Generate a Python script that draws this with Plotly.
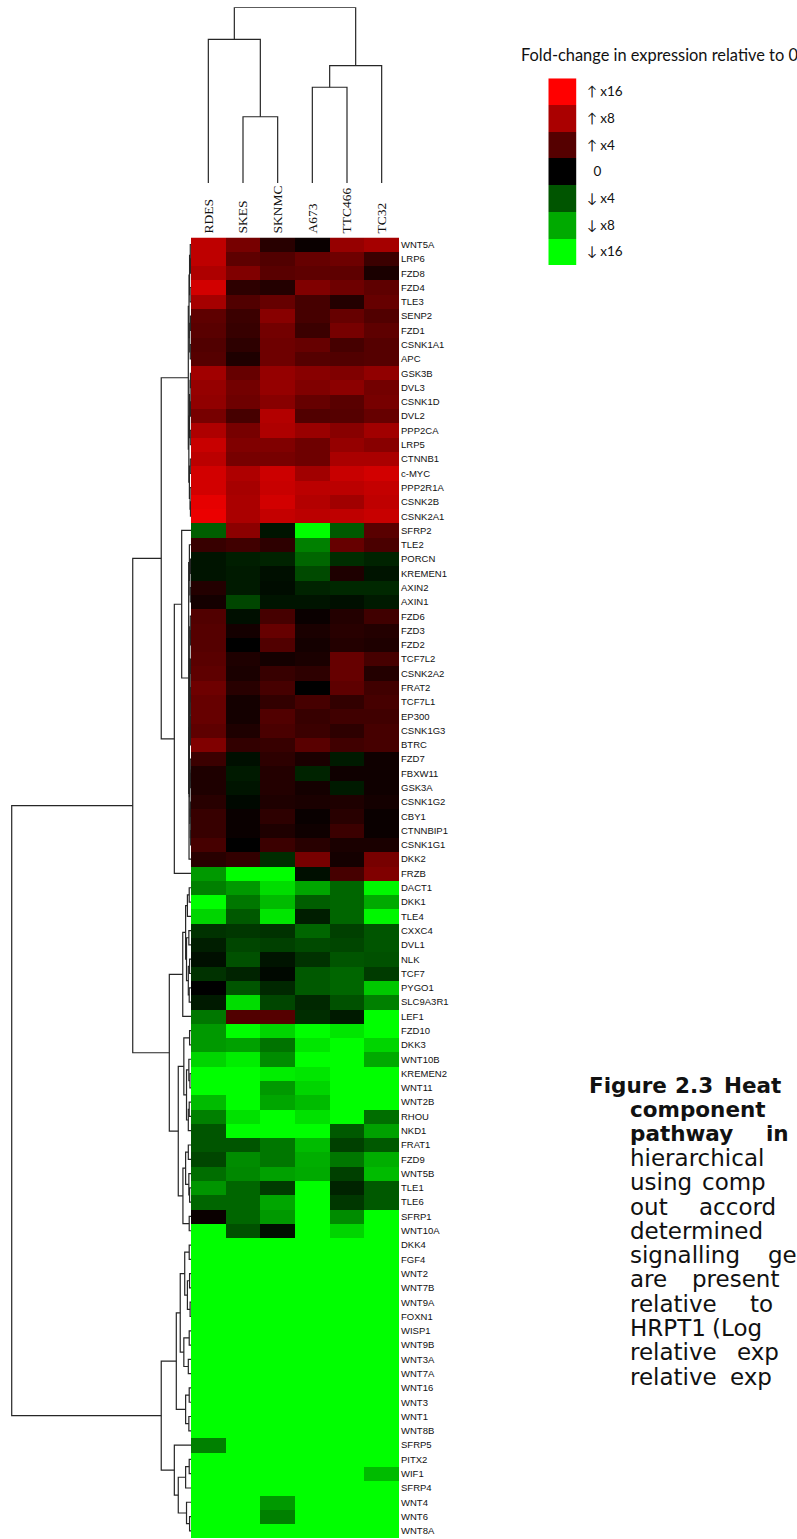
import plotly.graph_objects as go

W, H = 797, 1539

cell_lines = ["RDES", "SKES", "SKNMC", "A673", "TTC466", "TC32"]

genes = [
    "WNT5A", "LRP6", "FZD8", "FZD4", "TLE3", "SENP2", "FZD1", "CSNK1A1", "APC",
    "GSK3B", "DVL3", "CSNK1D", "DVL2", "PPP2CA", "LRP5", "CTNNB1", "c-MYC",
    "PPP2R1A", "CSNK2B", "CSNK2A1", "SFRP2", "TLE2", "PORCN", "KREMEN1", "AXIN2",
    "AXIN1", "FZD6", "FZD3", "FZD2", "TCF7L2", "CSNK2A2", "FRAT2", "TCF7L1",
    "EP300", "CSNK1G3", "BTRC", "FZD7", "FBXW11", "GSK3A", "CSNK1G2", "CBY1",
    "CTNNBIP1", "CSNK1G1", "DKK2", "FRZB", "DACT1", "DKK1", "TLE4", "CXXC4",
    "DVL1", "NLK", "TCF7", "PYGO1", "SLC9A3R1", "LEF1", "FZD10", "DKK3",
    "WNT10B", "KREMEN2", "WNT11", "WNT2B", "RHOU", "NKD1", "FRAT1", "FZD9",
    "WNT5B", "TLE1", "TLE6", "SFRP1", "WNT10A", "DKK4", "FGF4", "WNT2", "WNT7B",
    "WNT9A", "FOXN1", "WISP1", "WNT9B", "WNT3A", "WNT7A", "WNT16", "WNT3",
    "WNT1", "WNT8B", "SFRP5", "PITX2", "WIF1", "SFRP4", "WNT4", "WNT6", "WNT8A",
]

# log2 fold-change per gene (rows) and cell line (columns)
log2_fold = [
    [3.24, 2.40, 0.94, 0.24, 2.76, 2.94],   # WNT5A
    [3.24, 2.10, 1.90, 2.20, 2.30, 1.40],   # LRP6
    [3.05, 2.50, 2.05, 2.10, 2.10, 0.60],   # FZD8
    [3.47, 1.06, 0.82, 2.50, 2.30, 2.10],   # FZD4
    [2.94, 1.90, 2.20, 1.65, 0.82, 2.20],   # TLE3
    [2.10, 1.40, 2.60, 1.65, 2.20, 1.90],   # SENP2
    [2.05, 1.30, 2.35, 1.40, 2.40, 2.10],   # FZD1
    [1.90, 1.06, 2.30, 2.20, 1.65, 2.00],   # CSNK1A1
    [2.00, 0.70, 2.30, 2.00, 1.90, 2.00],   # APC
    [2.90, 2.20, 2.75, 2.60, 2.50, 2.70],   # GSK3B
    [2.75, 2.35, 2.75, 2.50, 2.65, 2.35],   # DVL3
    [2.70, 2.30, 2.60, 2.20, 2.05, 2.40],   # CSNK1D
    [2.40, 1.65, 3.10, 1.90, 2.00, 2.20],   # DVL2
    [3.05, 2.40, 3.05, 2.80, 2.60, 2.90],   # PPP2CA
    [3.35, 2.50, 2.50, 2.30, 2.75, 2.60],   # LRP5
    [3.20, 2.40, 2.40, 2.30, 3.00, 3.00],   # CTNNB1
    [3.47, 3.05, 3.40, 2.90, 3.35, 3.47],   # c-MYC
    [3.47, 2.95, 3.35, 3.20, 3.20, 3.30],   # PPP2R1A
    [3.70, 3.00, 3.47, 3.10, 2.90, 3.25],   # CSNK2B
    [3.76, 3.00, 3.30, 3.20, 3.25, 3.35],   # CSNK2A1
    [-2.10, 2.65, -0.47, -4.00, -2.05, 2.05],   # SFRP2
    [1.30, 1.50, 1.06, -2.50, 2.20, 1.75],      # TLE2
    [-0.47, -0.70, -0.82, -2.20, -1.06, -0.82], # PORCN
    [-0.47, -0.60, -0.35, -1.75, 0.70, -0.47],  # KREMEN1
    [0.82, -0.60, -0.28, -0.82, -0.94, -0.94],  # AXIN2
    [0.47, -1.65, -0.47, -0.47, -0.35, -0.60],  # AXIN1
    [1.90, -0.35, 1.65, 0.24, 0.82, 1.50],      # FZD6
    [2.00, 0.47, 2.20, 0.60, 0.94, 0.82],       # FZD3
    [2.00, 0.00, 1.90, 0.47, 0.82, 0.70],       # FZD2
    [2.05, 0.70, 0.47, 0.60, 2.20, 1.65],       # TCF7L2
    [2.10, 0.60, 1.30, 1.06, 2.20, 0.82],       # CSNK2A2
    [2.30, 0.94, 1.65, 0.00, 2.10, 1.50],       # FRAT2
    [2.20, 0.47, 1.18, 1.65, 1.18, 1.65],       # TCF7L1
    [2.20, 0.47, 1.90, 1.30, 1.50, 1.50],       # EP300
    [2.10, 0.70, 1.75, 1.40, 1.06, 1.65],       # CSNK1G3
    [2.50, 1.18, 1.30, 2.05, 1.50, 1.65],       # BTRC
    [1.40, -0.35, 1.06, 0.60, -0.60, 0.35],     # FZD7
    [0.70, -0.60, 0.82, -0.82, 0.35, 0.35],     # FBXW11
    [0.70, -0.47, 0.82, 0.47, -0.60, 0.35],     # GSK3A
    [0.94, -0.20, 0.70, 0.60, 0.70, 0.47],      # CSNK1G2
    [1.30, 0.24, 1.06, 0.20, 0.94, 0.24],       # CBY1
    [1.30, 0.24, 0.70, 0.35, 1.40, 0.24],       # CTNNBIP1
    [1.65, 0.00, 1.40, 0.94, 0.60, 0.60],       # CSNK1G1
    [0.94, 1.18, -1.06, 2.40, 0.47, 2.40],      # DKK2
    [-2.80, -4.00, -4.00, -0.35, 1.65, 2.50],   # FRZB
    [-2.50, -2.80, -3.60, -2.95, -2.20, -3.90], # DACT1
    [-4.00, -2.40, -3.20, -2.10, -2.20, -3.00], # DKK1
    [-3.50, -2.05, -3.70, -0.70, -2.20, -3.90], # TLE4
    [-1.18, -1.30, -1.18, -2.20, -1.50, -2.00], # CXXC4
    [-0.70, -1.65, -1.50, -1.75, -1.65, -2.00], # DVL1
    [-0.35, -1.90, -0.47, -1.18, -2.00, -1.90], # NLK
    [-1.18, -0.82, -0.20, -2.05, -2.20, -1.40], # TCF7
    [0.00, -2.00, -0.94, -2.05, -2.20, -3.35],  # PYGO1
    [-0.60, -3.60, -1.65, -0.94, -1.90, -2.50], # SLC9A3R1
    [-2.40, 1.90, 2.00, -1.06, -0.60, -4.00],   # LEF1
    [-2.80, -4.00, -3.50, -4.00, -3.70, -4.00], # FZD10
    [-2.80, -2.90, -2.35, -3.70, -4.00, -3.50], # DKK3
    [-3.50, -3.80, -2.65, -4.00, -4.00, -3.00], # WNT10B
    [-4.00, -4.00, -3.80, -3.70, -4.00, -4.00], # KREMEN2
    [-4.00, -4.00, -2.80, -3.50, -4.00, -4.00], # WNT11
    [-3.20, -4.00, -2.95, -3.20, -4.00, -4.00], # WNT2B
    [-2.50, -3.65, -4.00, -3.65, -4.00, -2.30], # RHOU
    [-2.00, -4.00, -4.00, -4.00, -2.05, -2.90], # NKD1
    [-2.00, -2.00, -2.40, -3.20, -1.50, -2.05], # FRAT1
    [-1.65, -2.65, -2.40, -3.05, -2.40, -3.05], # FZD9
    [-2.30, -2.60, -2.90, -3.00, -1.50, -3.20], # WNT5B
    [-2.75, -2.20, -1.40, -4.00, -0.82, -2.05], # TLE1
    [-2.20, -2.20, -2.95, -4.00, -1.30, -2.05], # TLE6
    [0.24, -2.20, -2.80, -4.00, -2.65, -4.00],  # SFRP1
    [-4.00, -1.90, -0.35, -4.00, -3.50, -4.00], # WNT10A
    [-4.00, -4.00, -4.00, -4.00, -4.00, -4.00], # DKK4
    [-4.00, -4.00, -4.00, -4.00, -4.00, -4.00], # FGF4
    [-4.00, -4.00, -4.00, -4.00, -4.00, -4.00], # WNT2
    [-4.00, -4.00, -4.00, -4.00, -4.00, -4.00], # WNT7B
    [-4.00, -4.00, -4.00, -4.00, -4.00, -4.00], # WNT9A
    [-4.00, -4.00, -4.00, -4.00, -4.00, -4.00], # FOXN1
    [-4.00, -4.00, -4.00, -4.00, -4.00, -4.00], # WISP1
    [-4.00, -4.00, -4.00, -4.00, -4.00, -4.00], # WNT9B
    [-4.00, -4.00, -4.00, -4.00, -4.00, -4.00], # WNT3A
    [-4.00, -4.00, -4.00, -4.00, -4.00, -4.00], # WNT7A
    [-4.00, -4.00, -4.00, -4.00, -4.00, -4.00], # WNT16
    [-4.00, -4.00, -4.00, -4.00, -4.00, -4.00], # WNT3
    [-4.00, -4.00, -4.00, -4.00, -4.00, -4.00], # WNT1
    [-4.00, -4.00, -4.00, -4.00, -4.00, -4.00], # WNT8B
    [-2.50, -4.00, -4.00, -4.00, -4.00, -4.00], # SFRP5
    [-4.00, -4.00, -4.00, -4.00, -4.00, -4.00], # PITX2
    [-4.00, -4.00, -4.00, -4.00, -4.00, -3.20], # WIF1
    [-4.00, -4.00, -4.00, -4.00, -4.00, -4.00], # SFRP4
    [-4.00, -4.00, -2.80, -4.00, -4.00, -4.00], # WNT4
    [-4.00, -4.00, -2.50, -4.00, -4.00, -4.00], # WNT6
    [-4.00, -4.00, -4.00, -4.00, -4.00, -4.00], # WNT8A
]

# Hierarchical clustering of genes: (merge distance, left, right); root = 1.0
red_block = (0.015,
    (0.011,
        (0.008, (0.004, "WNT5A", (0.003, "LRP6", "FZD8")), (0.005, "FZD4", "TLE3")),
        (0.007, (0.003, "SENP2", "FZD1"), (0.004, "CSNK1A1", "APC"))),
    (0.012,
        (0.008, (0.005, (0.003, "GSK3B", "DVL3"), (0.003, "CSNK1D", "DVL2")),
                (0.004, "PPP2CA", "LRP5")),
        (0.009, (0.004, "CTNNB1", "c-MYC"),
                (0.005, "PPP2R1A", (0.003, "CSNK2B", "CSNK2A1")))))

mixed_block = (0.013,
    (0.009, "TLE2", (0.006, (0.003, "PORCN", "KREMEN1"), (0.004, "AXIN2", "AXIN1"))),
    (0.011,
        (0.009,
            (0.007, (0.004, "FZD6", (0.003, "FZD3", "FZD2")),
                    (0.005, (0.003, "TCF7L2", "CSNK2A2"),
                            (0.004, (0.002, "FRAT2", "TCF7L1"),
                                    (0.003, (0.002, "EP300", "CSNK1G3"), "BTRC")))),
            (0.006, (0.004, "FZD7", (0.002, "FBXW11", "GSK3A")),
                    (0.004, (0.003, "CSNK1G2", "CBY1"), (0.002, "CTNNBIP1", "CSNK1G1")))),
        "DKK2"))

low_block = (0.121,
    (0.046,
        (0.030, (0.020, (0.010, "DACT1", "DKK1"), "TLE4"),
                (0.025, (0.012, "CXXC4", "DVL1"),
                        (0.015, (0.008, "NLK", "TCF7"), (0.010, "PYGO1", "SLC9A3R1")))),
        "LEF1"),
    (0.071,
        (0.040, (0.008, "FZD10", "DKK3"),
                (0.025, (0.012, "WNT10B", (0.006, "KREMEN2", "WNT11")),
                        (0.015, (0.010, "WNT2B", "RHOU"), "NKD1"))),
        (0.045, (0.030, (0.015, "FRAT1", "FZD9"),
                        (0.012, "WNT5B", (0.008, "TLE1", "TLE6"))),
                (0.010, "SFRP1", "WNT10A"))))

wnt_block = (0.166,
    (0.082,
        (0.060,
            (0.035, (0.010, "DKK4", "FGF4"),
                    (0.020, (0.008, "WNT2", "WNT7B"), (0.005, "WNT9A", "FOXN1"))),
            (0.040, (0.010, "WISP1", "WNT9B"), (0.015, "WNT3A", "WNT7A"))),
        (0.030, (0.010, "WNT16", "WNT3"), (0.012, "WNT1", "WNT8B"))),
    (0.093,
        "SFRP5",
        (0.071, (0.030, (0.010, "PITX2", "WIF1"), "SFRP4"),
                (0.025, "WNT4", (0.008, "WNT6", "WNT8A")))))

gene_tree = (1.0,
    (0.325,
        (0.166, red_block, (0.093, (0.052, "SFRP2", mixed_block), "FRZB")),
        low_block),
    wnt_block)

# Clustering of cell lines
cell_tree = (1.0,
    (0.818, "RDES", (0.377, "SKES", "SKNMC")),
    (0.668, (0.545, "A673", "TTC466"), "TC32"))

legend_levels = [4, 3, 2, 0, -2, -3, -4]
legend_labels = ["\u2191 x16", "\u2191 x8", "\u2191 x4", "\u00a0\u00a00",
                 "\u2193 x4", "\u2193 x8", "\u2193 x16"]

# caption: (words with their left edge in px, bold?)
caption_lines = [
    ([("Figure", 586.7), ("2.3", 673), ("Heat", 722)], True),
    ([("component", 628.3)], True),
    ([("pathway", 628.3), ("in", 764)], True),
    ([("hierarchical", 628.3)], False),
    ([("using", 628.3), ("comp", 700)], False),
    ([("out", 628.3), ("accord", 697)], False),
    ([("determined", 628.3)], False),
    ([("signalling", 628.3), ("ge", 766)], False),
    ([("are", 628.3), ("present", 690)], False),
    ([("relative", 628.3), ("to", 748)], False),
    ([("HRPT1", 628.3), ("(Log", 710)], False),
    ([("relative", 628.3), ("exp", 735)], False),
    ([("relative", 628.3), ("exp", 728)], False),
]

colorscale = [
    [0.0, "rgb(0,255,0)"], [0.125, "rgb(0,170,0)"], [0.25, "rgb(0,85,0)"],
    [0.5, "rgb(0,0,0)"],
    [0.75, "rgb(85,0,0)"], [0.875, "rgb(170,0,0)"], [1.0, "rgb(255,0,0)"],
]


def dendro_segments(node, leaf_index, xs, ys, horizontal):
    """Walk a merge tree, returning (leaf position, height) and collecting elbows."""
    if isinstance(node, str):
        return float(leaf_index[node]), 0.0
    h, left, right = node
    p1, h1 = dendro_segments(left, leaf_index, xs, ys, horizontal)
    p2, h2 = dendro_segments(right, leaf_index, xs, ys, horizontal)
    hs = [h1, h, h, h2, None]
    ps = [p1, p1, p2, p2, None]
    if horizontal:
        xs.extend(hs); ys.extend(ps)
    else:
        xs.extend(ps); ys.extend(hs)
    return (p1 + p2) / 2.0, h


def py(px):
    return 1 - px / H


row_top, row_bot = 237.5, 1538.0
heat_x0, heat_x1 = 191.0, 399.0

fig = go.Figure()

# main heatmap
fig.add_trace(go.Heatmap(
    z=log2_fold, x=list(range(len(cell_lines))), y=list(range(len(genes))),
    colorscale=colorscale, zmin=-4, zmax=4, showscale=False,
    xaxis="x", yaxis="y", hoverinfo="skip"))

# gene dendrogram
gx, gy = [], []
dendro_segments(gene_tree, {g: i for i, g in enumerate(genes)}, gx, gy, True)
fig.add_trace(go.Scatter(x=gx, y=gy, mode="lines", xaxis="x2", yaxis="y",
                         line=dict(color="#262626", width=1.2),
                         hoverinfo="skip", showlegend=False))

# cell-line dendrogram
cx, cy = [], []
dendro_segments(cell_tree, {c: i for i, c in enumerate(cell_lines)}, cx, cy, False)
fig.add_trace(go.Scatter(x=cx, y=cy, mode="lines", xaxis="x", yaxis="y3",
                         line=dict(color="#262626", width=1.2),
                         hoverinfo="skip", showlegend=False))

# colour key
fig.add_trace(go.Heatmap(
    z=[[v] for v in legend_levels], x=[0], y=list(range(len(legend_levels))),
    colorscale=colorscale, zmin=-4, zmax=4, showscale=False,
    xaxis="x4", yaxis="y4", hoverinfo="skip"))

label_font = dict(family="Lato, 'Open Sans', sans-serif", color="#111")

fig.update_layout(
    width=W, height=H,
    margin=dict(l=0, r=0, t=0, b=0),
    paper_bgcolor="white", plot_bgcolor="white",
    showlegend=False,
    xaxis=dict(domain=[heat_x0 / W, heat_x1 / W], range=[-0.5, 5.5],
               anchor="y", side="top", tickmode="array",
               tickvals=list(range(len(cell_lines))), ticktext=cell_lines,
               tickangle=-90, ticks="", ticklabelstandoff=3,
               tickfont=dict(family="Liberation Serif, serif", size=13.5, color="#111"),
               showgrid=False, zeroline=False, showline=False),
    yaxis=dict(domain=[py(row_bot), py(row_top)], range=[len(genes) - 0.5, -0.5],
               anchor="x", side="right", tickmode="array",
               tickvals=list(range(len(genes))), ticktext=genes, ticks="",
               ticklabelstandoff=1,
               tickfont=dict(family="Liberation Sans, Arial, sans-serif", size=9.5, color="#111"),
               showgrid=False, zeroline=False, showline=False),
    xaxis2=dict(domain=[0, heat_x0 / W], range=[1.0653, 0], anchor="y",
                showticklabels=False, showgrid=False, zeroline=False, showline=False),
    yaxis3=dict(domain=[py(183), py(7.3)], range=[0, 1.0], anchor="x",
                showticklabels=False, showgrid=False, zeroline=False, showline=False),
    xaxis4=dict(domain=[548.3 / W, 576.7 / W], range=[-0.5, 0.5], anchor="y4",
                showticklabels=False, showgrid=False, zeroline=False, showline=False),
    yaxis4=dict(domain=[py(265), py(78.3)], range=[len(legend_levels) - 0.5, -0.5],
                anchor="x4", side="right", tickmode="array",
                tickvals=list(range(len(legend_levels))), ticktext=legend_labels,
                ticks="", ticklabelstandoff=9,
                tickfont=dict(size=13.5, **label_font),
                showgrid=False, zeroline=False, showline=False),
)

fig.add_annotation(text="Fold-change in expression relative to 0",
                   xref="paper", yref="paper", x=519 / W, y=py(54),
                   xanchor="left", yanchor="middle", showarrow=False,
                   font=dict(size=16.4, **label_font))

caption_font = dict(family="DejaVu Sans, sans-serif", color="#111")
line_y0, line_step = 1085.0, 24.3
for i, (words, bold) in enumerate(caption_lines):
    for word, x0 in words:
        fig.add_annotation(text=f"<b>{word}</b>" if bold else word,
                           xref="paper", yref="paper", x=x0 / W,
                           y=py(line_y0 + i * line_step),
                           xanchor="left", yanchor="middle", showarrow=False,
                           font=dict(size=21.5 if bold else 23, **caption_font))

fig.write_html("out.html")
